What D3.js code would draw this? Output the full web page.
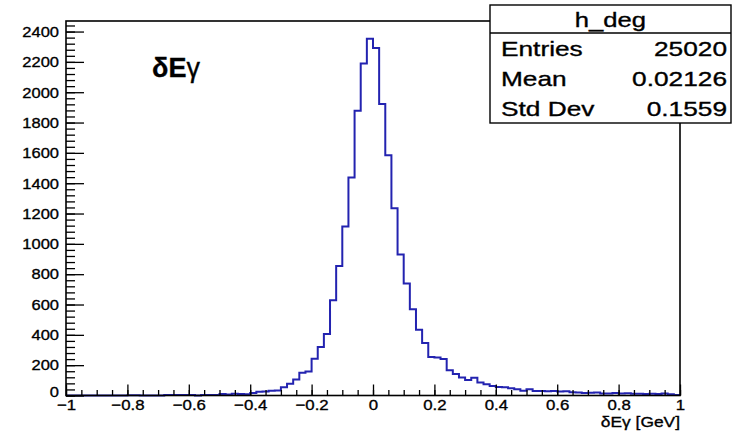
<!DOCTYPE html>
<html>
<head>
<meta charset="utf-8">
<script src="https://cdn.jsdelivr.net/npm/d3@7"></script>
<style>
    body { margin: 0; background: #fff; }
    svg { display: block; font-family: "Liberation Sans", Arial, Helvetica, sans-serif; }
    svg text { stroke: #000; stroke-width: 0.35px; }
</style>
</head>
<body>
<div id="chart"></div>
<script>
// Chart size and frame placement
const width = 733;
const height = 434;
const frame = { left: 66, right: 680, top: 21, bottom: 395.5 };

// Histogram binning (100 bins from -1 to 1)
const binStart = -1;
const binWidth = 0.02;

// Bin contents, left to right
const counts = [
    0, 0, 0, 0, 0, 0, 0, 0, 0, 0,
    2, 2, 0, 0, 0, 0, 3, 3, 3, 3,
    3, 0, 3, 3, 4, 10, 6, 12, 10, 8,
    16, 24, 26, 32, 33, 55, 78, 105, 150, 158,
    242, 320, 405, 628, 854, 1115, 1438, 1877, 2190, 2352,
    2292, 1922, 1585, 1234, 930, 738, 568, 434, 346, 254,
    250, 241, 166, 141, 118, 102, 117, 85, 74, 63,
    56, 54, 47, 41, 32, 41, 30, 30, 28, 30,
    26, 28, 22, 20, 16, 18, 20, 14, 14, 16,
    14, 15, 12, 12, 10, 12, 10, 14, 8, 4
];

// Axis tick labels
const xTicks = [-1, -0.8, -0.6, -0.4, -0.2, 0, 0.2, 0.4, 0.6, 0.8, 1];
const yTicks = [0, 200, 400, 600, 800, 1000, 1200, 1400, 1600, 1800, 2000, 2200, 2400];

// Stats box contents
const statsTitle = "h_deg";
const statsNames = ["Entries", "Mean", "Std Dev"];
const statsValues = ["25020", "0.02126", "0.1559"];

const lineColor = "#2323b0";

// stretch text sideways so it looks like the reference
function stretch(sel, k) {
    sel.each(function() {
        const len = this.getComputedTextLength();
        d3.select(this)
            .attr("textLength", len * k)
            .attr("lengthAdjust", "spacingAndGlyphs");
    });
}

const svg = d3.select("#chart").append("svg")
    .attr("width", width)
    .attr("height", height);

const x = d3.scaleLinear()
    .domain([-1, 1])
    .range([frame.left, frame.right]);

const y = d3.scaleLinear()
    .domain([0, d3.max(counts) * 1.05])
    .range([frame.bottom, frame.top]);

// Histogram outline as a step line
const steps = [];
counts.forEach((c, i) => {
    const lo = binStart + i * binWidth;
    steps.push([lo, c], [lo + binWidth, c]);
});

svg.append("path")
    .datum(steps)
    .attr("fill", "none")
    .attr("stroke", lineColor)
    .attr("stroke-width", 2)
    .attr("d", d3.line().x(d => x(d[0])).y(d => y(d[1])));

// Minor ticks
svg.append("g")
    .attr("transform", `translate(0,${frame.bottom})`)
    .call(d3.axisBottom(x).tickValues(d3.range(-1, 1.001, 0.05)).tickSize(-5.5).tickSizeOuter(0).tickFormat(""))
    .call(g => g.select(".domain").remove());

svg.append("g")
    .attr("transform", `translate(${frame.left},0)`)
    .call(d3.axisLeft(y).tickValues(d3.range(0, 2470, 40)).tickSize(-9).tickSizeOuter(0).tickFormat(""))
    .call(g => g.select(".domain").remove());

// Major ticks and labels
const xAxis = svg.append("g")
    .attr("transform", `translate(0,${frame.bottom})`)
    .call(d3.axisBottom(x).tickValues(xTicks).tickSize(-11).tickSizeOuter(0).tickPadding(4).tickFormat(d3.format("~g")))
    .call(g => g.select(".domain").remove());

xAxis.selectAll("text")
    .attr("font-size", 15)
    .attr("font-family", null)
    .attr("fill", "#000");
stretch(xAxis.selectAll("text"), 1.12);

const yAxis = svg.append("g")
    .attr("transform", `translate(${frame.left},0)`)
    .call(d3.axisLeft(y).tickValues(yTicks).tickSize(-18).tickSizeOuter(0).tickPadding(7).tickFormat(d3.format("d")))
    .call(g => g.select(".domain").remove());

yAxis.selectAll("text")
    .attr("font-size", 15)
    .attr("font-family", null)
    .attr("fill", "#000");
yAxis.selectAll(".tick").filter(d => d === 0).select("text").attr("y", -4);
stretch(yAxis.selectAll("text"), 1.1);

svg.selectAll(".tick line").attr("stroke", "#000").attr("stroke-width", 1.3);

// Frame
svg.append("rect")
    .attr("x", frame.left)
    .attr("y", frame.top)
    .attr("width", frame.right - frame.left)
    .attr("height", frame.bottom - frame.top)
    .attr("fill", "none")
    .attr("stroke", "#000")
    .attr("stroke-width", 1.6);

// X axis title
const xTitle = svg.append("text")
    .attr("x", frame.right)
    .attr("y", 427)
    .attr("text-anchor", "end")
    .attr("font-size", 15.5)
    .text("δEγ [GeV]");
stretch(xTitle, 1.12);

// Label in the plot
const label = svg.append("text")
    .attr("x", 152)
    .attr("y", 77)
    .attr("font-size", 27);
label.append("tspan").attr("font-weight", "bold").text("δ");
label.append("tspan").attr("font-weight", "bold").text("E");
label.append("tspan").text("γ");

// Stats box
const box = { x: 490, y: 5, w: 241, h: 118, sep: 33 };
const stats = svg.append("g");

stats.append("rect")
    .attr("x", box.x)
    .attr("y", box.y)
    .attr("width", box.w)
    .attr("height", box.h)
    .attr("fill", "#fff")
    .attr("stroke", "#000")
    .attr("stroke-width", 1.4);

stats.append("line")
    .attr("x1", box.x)
    .attr("x2", box.x + box.w)
    .attr("y1", box.sep)
    .attr("y2", box.sep)
    .attr("stroke", "#000")
    .attr("stroke-width", 1.4);

const title = stats.append("text")
    .attr("x", box.x + box.w / 2)
    .attr("y", 27)
    .attr("text-anchor", "middle")
    .attr("font-size", 21)
    .text(statsTitle);
stretch(title, 1.22);

const rowY = d3.scaleBand()
    .domain(statsNames)
    .range([box.sep, box.y + box.h]);

statsNames.forEach((name, i) => {
    const base = rowY(name) + rowY.bandwidth() / 2 + 8;
    const t1 = stats.append("text")
        .attr("x", box.x + 11)
        .attr("y", base)
        .attr("font-size", 21)
        .text(name);
    const t2 = stats.append("text")
        .attr("x", box.x + box.w - 4)
        .attr("y", base)
        .attr("text-anchor", "end")
        .attr("font-size", 21)
        .text(statsValues[i]);
    stretch(t1, 1.25);
    stretch(t2, 1.25);
});
</script>
</body>
</html>
